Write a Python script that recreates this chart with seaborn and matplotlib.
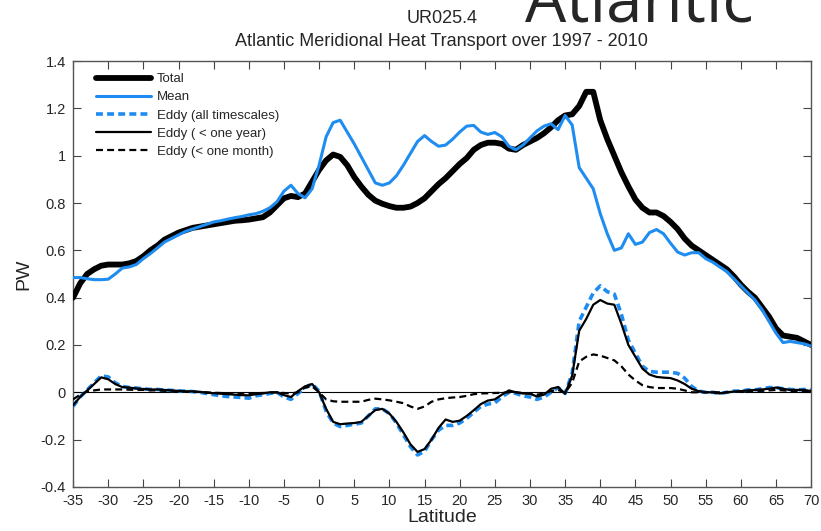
import numpy as np
import pandas as pd
import matplotlib
matplotlib.use("Agg")
import matplotlib.pyplot as plt
import seaborn as sns

lat = list(range(-35, 71))

total = [0.40, 0.46, 0.50, 0.52, 0.535, 0.54, 0.54, 0.54, 0.545, 0.555,
         0.575, 0.60, 0.62, 0.645, 0.66, 0.675, 0.685, 0.695, 0.70, 0.705,
         0.71, 0.715, 0.72, 0.725, 0.727, 0.73, 0.735, 0.74, 0.76, 0.79,
         0.82, 0.83, 0.825, 0.84, 0.89, 0.94, 0.98, 1.005, 0.995, 0.96,
         0.91, 0.87, 0.835, 0.81, 0.797, 0.787, 0.78, 0.78, 0.785, 0.80,
         0.82, 0.85, 0.88, 0.905, 0.935, 0.965, 0.99, 1.025, 1.045, 1.055,
         1.055, 1.05, 1.03, 1.025, 1.045, 1.06, 1.075, 1.095, 1.12, 1.15,
         1.17, 1.175, 1.21, 1.27, 1.27, 1.15, 1.07, 1.00, 0.93, 0.87,
         0.815, 0.78, 0.76, 0.76, 0.745, 0.72, 0.69, 0.65, 0.62, 0.60,
         0.58, 0.56, 0.54, 0.52, 0.49, 0.455, 0.425, 0.40, 0.36, 0.32,
         0.27, 0.24, 0.235, 0.23, 0.215, 0.20]

mean = [0.485, 0.485, 0.48, 0.476, 0.476, 0.478, 0.50, 0.525, 0.53, 0.54,
        0.565, 0.586, 0.61, 0.635, 0.65, 0.665, 0.68, 0.69, 0.70, 0.71,
        0.72, 0.725, 0.732, 0.738, 0.743, 0.75, 0.755, 0.765, 0.78, 0.805,
        0.85, 0.875, 0.84, 0.822, 0.86, 0.96, 1.08, 1.14, 1.15, 1.10,
        1.05, 0.995, 0.94, 0.885, 0.875, 0.885, 0.915, 0.96, 1.01, 1.06,
        1.085, 1.06, 1.04, 1.045, 1.07, 1.10, 1.125, 1.128, 1.10, 1.09,
        1.098, 1.08, 1.04, 1.025, 1.045, 1.075, 1.105, 1.125, 1.135, 1.11,
        1.17, 1.13, 0.95, 0.905, 0.86, 0.755, 0.67, 0.60, 0.61, 0.67,
        0.625, 0.635, 0.675, 0.688, 0.67, 0.63, 0.593, 0.58, 0.59, 0.59,
        0.565, 0.55, 0.53, 0.51, 0.48, 0.45, 0.42, 0.39, 0.35, 0.30,
        0.25, 0.21, 0.215, 0.21, 0.205, 0.195]

eddy_all = [-0.06, -0.02, 0.01, 0.04, 0.07, 0.065, 0.04, 0.025, 0.02, 0.018,
            0.015, 0.012, 0.012, 0.01, 0.008, 0.006, 0.005, 0.003, 0.0, -0.005,
            -0.01, -0.015, -0.018, -0.02, -0.022, -0.025, -0.015, -0.01, -0.005, 0.0,
            -0.02, -0.03, -0.005, 0.02, 0.035, 0.005, -0.08, -0.13, -0.145, -0.14,
            -0.135, -0.13, -0.10, -0.07, -0.07, -0.09, -0.13, -0.18, -0.23, -0.265,
            -0.25, -0.20, -0.16, -0.14, -0.14, -0.13, -0.11, -0.085, -0.06, -0.05,
            -0.045, -0.02, 0.0, -0.005, -0.015, -0.02, -0.03, -0.02, 0.0, 0.02,
            -0.005, 0.08, 0.30, 0.36, 0.42, 0.45, 0.425, 0.415, 0.33, 0.22,
            0.165, 0.11, 0.088, 0.085, 0.085, 0.085, 0.08, 0.06, 0.025, 0.005,
            0.0, 0.0, -0.005, 0.0, 0.005, 0.005, 0.01, 0.01, 0.015, 0.02,
            0.02, 0.015, 0.012, 0.01, 0.012, 0.01]

eddy_year = [-0.055, -0.02, 0.008, 0.035, 0.063, 0.055, 0.035, 0.022, 0.02, 0.016,
             0.014, 0.012, 0.012, 0.01, 0.008, 0.006, 0.004, 0.004, 0.002, -0.002,
             -0.004, -0.006, -0.008, -0.01, -0.012, -0.013, -0.008, -0.005, 0.0, 0.0,
             -0.012, -0.02, 0.005, 0.025, 0.035, 0.0, -0.07, -0.125, -0.135, -0.132,
             -0.13, -0.125, -0.10, -0.075, -0.07, -0.09, -0.125, -0.17, -0.22, -0.252,
             -0.24, -0.20, -0.15, -0.115, -0.125, -0.12, -0.10, -0.076, -0.05, -0.035,
             -0.03, -0.01, 0.008, 0.0, -0.005, -0.006, -0.018, -0.01, 0.015, 0.022,
             -0.006, 0.07, 0.26, 0.31, 0.37, 0.39, 0.375, 0.37, 0.29, 0.20,
             0.15, 0.10, 0.075, 0.065, 0.062, 0.06, 0.05, 0.035, 0.015, 0.005,
             0.0, 0.0, -0.005, 0.0, 0.003, 0.005, 0.008, 0.01, 0.012, 0.015,
             0.02, 0.015, 0.01, 0.01, 0.01, 0.005]

eddy_month = [-0.03, -0.01, 0.003, 0.008, 0.012, 0.012, 0.012, 0.012, 0.011, 0.01,
              0.01, 0.008, 0.008, 0.006, 0.005, 0.004, 0.003, 0.002, 0.001, 0.0,
              -0.002, -0.003, -0.004, -0.005, -0.006, -0.006, -0.004, -0.003, -0.002, 0.0,
              -0.003, -0.005, 0.0, 0.02, 0.025, 0.0, -0.03, -0.038, -0.04, -0.04,
              -0.04, -0.04, -0.032, -0.027, -0.03, -0.034, -0.04, -0.046, -0.06, -0.07,
              -0.06, -0.04, -0.03, -0.025, -0.022, -0.02, -0.015, -0.008, -0.005, -0.004,
              -0.003, -0.002, 0.0, 0.0, -0.003, -0.005, -0.01, -0.005, 0.005, 0.01,
              -0.002, 0.04, 0.13, 0.15, 0.16, 0.155, 0.145, 0.135, 0.11, 0.075,
              0.05, 0.03, 0.022, 0.018, 0.018, 0.018, 0.015, 0.008, 0.0, 0.0,
              0.0, 0.0, 0.0, 0.0, 0.002, 0.003, 0.004, 0.005, 0.006, 0.008,
              0.01, 0.008, 0.006, 0.005, 0.005, 0.005]

xticks = list(range(-35, 71, 5))
yticks = [-0.4, -0.2, 0, 0.2, 0.4, 0.6, 0.8, 1.0, 1.2, 1.4]
ytick_labels = ["-0.4", "-0.2", "0", "0.2", "0.4", "0.6", "0.8", "1", "1.2", "1.4"]

sns.set_theme(style="white")
plt.rcParams["font.family"] = ["Liberation Sans", "DejaVu Sans"]
plt.rcParams["lines.scale_dashes"] = False

df = pd.DataFrame({"lat": lat, "total": total, "mean": mean,
                   "eddy_all": eddy_all, "eddy_year": eddy_year,
                   "eddy_month": eddy_month})

fig = plt.figure(figsize=(8.21, 5.31), dpi=100)
ax = fig.add_axes([0.089, 0.083, 0.899, 0.802])

blue = "#1e8cf0"
ax.axhline(0, color="black", lw=0.8, zorder=1)
sns.lineplot(data=df, x="lat", y="total", ax=ax, color="black", lw=4.2, label="Total", zorder=5)
sns.lineplot(data=df, x="lat", y="mean", ax=ax, color=blue, lw=2.2, label="Mean", zorder=6)
sns.lineplot(data=df, x="lat", y="eddy_all", ax=ax, color=blue, lw=2.6,
             linestyle=(0, (5, 3)), label="Eddy (all timescales)", zorder=3)
sns.lineplot(data=df, x="lat", y="eddy_year", ax=ax, color="black", lw=1.6,
             label="Eddy ( < one year)", zorder=4)
sns.lineplot(data=df, x="lat", y="eddy_month", ax=ax, color="black", lw=1.6,
             linestyle=(0, (5, 3)), label="Eddy (< one month)", zorder=4)

ax.set_xlim(-35, 70)
ax.set_ylim(-0.4, 1.4)
ax.set_xticks(xticks)
ax.set_xticklabels([str(t) for t in xticks], fontsize=10.5)
ax.set_yticks(yticks)
ax.set_yticklabels(ytick_labels, fontsize=10.5)
ax.tick_params(direction="in", length=6, width=0.8, color="#444444",
               top=True, right=True, bottom=True, left=True, pad=5)
for s in ax.spines.values():
    s.set_color("#555555")
    s.set_linewidth(1.0)
ax.set_xlabel("Latitude", fontsize=14, labelpad=1)
ax.set_ylabel("PW", fontsize=14, labelpad=6)

leg = ax.legend(loc="upper left", frameon=False, fontsize=9.5, handlelength=4.2,
                handletextpad=0.4, labelspacing=0.45, borderaxespad=0.5,
                bbox_to_anchor=(0.015, 1.0))

fig.text(0.538, 0.966, "UR025.4", ha="center", va="center", fontsize=13)
fig.text(0.538, 0.922, "Atlantic Meridional Heat Transport over 1997 - 2010",
         ha="center", va="center", fontsize=13)
fig.text(0.639, 1 - 21 / 531, "Atlantic", ha="left", va="baseline",
         fontsize=47, family=["Open Sans", "DejaVu Sans"])

fig.savefig("out.png", dpi=100)
